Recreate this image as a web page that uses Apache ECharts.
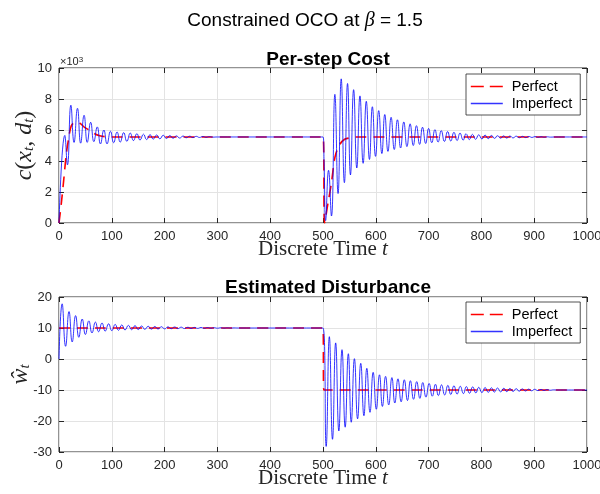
<!DOCTYPE html>
<html>
<head>
<meta charset="utf-8">
<script src="https://cdn.jsdelivr.net/npm/echarts@6/dist/echarts.min.js"></script>
<style>
  html, body { margin: 0; padding: 0; background: #fff; }
  #chart { width: 600px; height: 494px; }
</style>
</head>
<body>
<div id="chart"></div>
<script>
// values (cost in units of 10^3)
const seriesNames = ['Perfect', 'Imperfect']
const costTicks = [0, 2, 4, 6, 8, 10]
const distTicks = [-30, -20, -10, 0, 10, 20]

const costPerfect = [
  [0, 0], [4.5, 1.3], [9, 2.8], [14, 4.5], [18.5, 5.5], [23, 6.25], [30, 6.5], [39, 6.45],
  [48.5, 6.17], [58, 5.98], [67.5, 5.76], [77, 5.63], [86.5, 5.57], [100, 5.55], [500, 5.55],
  [503, 0], [509.5, 1.3], [516, 2.6], [523, 4.3], [531.5, 5.05], [541, 5.4], [553.5, 5.5],
  [565, 5.55], [1000, 5.55]
]

const costImperfect = [
  [0, 0], [11, 5.65], [16, 3.75], [22.5, 7.6], [28.5, 5.2], [35, 7.4], [41, 5.15], [47.5, 6.95],
  [53.5, 5.2], [60, 6.5], [66, 5.25], [72.5, 6.2], [78.5, 5.1], [85, 6.0], [91, 5.1], [97.5, 5.92],
  [103.5, 5.18], [110, 5.87], [116, 5.22], [122.5, 5.83], [128.5, 5.27], [135, 5.8], [141, 5.32],
  [147.5, 5.76], [153.5, 5.35], [160, 5.73], [166, 5.38], [172.5, 5.7], [178.5, 5.41], [185, 5.68],
  [191, 5.43], [197.5, 5.66], [203.5, 5.45], [210, 5.64], [216, 5.47], [222.5, 5.62], [228.5, 5.48],
  [235, 5.61], [241, 5.5], [247.5, 5.6], [253.5, 5.51], [260, 5.59], [266, 5.52], [272.5, 5.58],
  [278.5, 5.53], [285, 5.57], [291, 5.54], [300, 5.55], [500, 5.55],
  [502, 4.0], [505, 0.15], [510.5, 3.4], [516, 0.45], [522.5, 8.3], [528.5, 1.9], [534.5, 9.3],
  [540.5, 2.6], [546.5, 9.0], [552, 3.1], [558, 8.6], [564, 3.55], [570, 8.2], [576, 3.85],
  [582, 7.85], [588, 4.1], [593.5, 7.5], [599.5, 4.3], [605.5, 7.25], [611.5, 4.48], [617, 7.0],
  [623, 4.62], [629, 6.82], [635, 4.74], [641, 6.66], [647, 4.84], [653, 6.52], [659, 4.93],
  [665, 6.4], [671, 5.0], [677, 6.28], [683, 5.07], [688.5, 6.18], [694.5, 5.13], [700, 6.1],
  [706, 5.18], [712, 6.02], [718, 5.22], [724, 5.96], [730, 5.26], [736, 5.9], [742, 5.29],
  [748, 5.85], [754, 5.32], [759.5, 5.8], [765.5, 5.35], [771, 5.76], [777, 5.38], [783, 5.72],
  [789, 5.4], [795, 5.69], [801, 5.42], [807, 5.67], [813, 5.44], [819, 5.65], [825, 5.46],
  [830.5, 5.63], [836.5, 5.47], [842, 5.62], [848, 5.48], [854, 5.61], [860, 5.49], [866, 5.6],
  [872, 5.5], [878, 5.59], [884, 5.51], [890, 5.58], [896, 5.52], [901.5, 5.575], [907.5, 5.53],
  [913, 5.565], [919, 5.535], [925, 5.56], [931, 5.54], [940, 5.55], [1000, 5.55]
]

const distPerfect = [[0, 10], [500, 10], [501.5, -10], [1000, -10]]

const distImperfect = [
  [0, 0], [6, 17.8], [12.5, 4.1], [19, 15.3], [25, 5.5], [31.5, 14.0], [37.5, 7.0], [44, 12.9],
  [50, 7.9], [56.5, 12.3], [62.5, 8.4], [69, 11.9], [75, 8.8], [81.5, 11.6], [87.5, 9.0],
  [94, 11.35], [100, 9.15], [106.5, 11.15], [112.5, 9.25], [119, 11.0], [125, 9.35], [131.5, 10.85],
  [137.5, 9.45], [144, 10.75], [150, 9.5], [156.5, 10.65], [162.5, 9.58], [169, 10.55], [175, 9.63],
  [181.5, 10.48], [187.5, 9.68], [194, 10.42], [200, 9.72], [206.5, 10.37], [212.5, 9.76],
  [219, 10.32], [225, 9.8], [231.5, 10.27], [237.5, 9.83], [244, 10.23], [250, 9.86], [256.5, 10.19],
  [262.5, 9.88], [269, 10.16], [275, 9.9], [281.5, 10.13], [287.5, 9.92], [294, 10.1], [300, 9.93],
  [306.5, 10.08], [312.5, 9.95], [319, 10.05], [325, 9.97], [331.5, 10.03], [340, 10], [500, 10],
  [506, -28.2], [512, 7.2], [518, -25.9], [524, 5.2], [530, -23.2], [536, 3.0], [542, -22.0],
  [548, 1.7], [553.5, -20.4], [559.5, 0.1], [565.5, -19.3], [571.5, -1.4], [577.5, -18.3],
  [583, -3.0], [589, -17.2], [595, -4.3], [601, -16.2], [607, -5.1], [612.5, -15.3], [618.5, -5.6],
  [624.5, -14.8], [630.5, -6.0], [636, -14.2], [642, -6.4], [648, -13.8], [654, -6.7], [660, -13.4],
  [665.5, -7.0], [671.5, -13.0], [677.5, -7.3], [683.5, -12.7], [689, -7.6], [695, -12.3],
  [701, -7.9], [707, -12.0], [713, -8.15], [718.5, -11.8], [724.5, -8.35], [730.5, -11.6],
  [736.5, -8.5], [742, -11.45], [748, -8.65], [754, -11.3], [760, -8.8], [766, -11.15],
  [771.5, -8.9], [777.5, -11.05], [783.5, -9.0], [789.5, -10.95], [795, -9.1], [801, -10.85],
  [807, -9.2], [813, -10.76], [819, -9.28], [824.5, -10.68], [830.5, -9.36], [836.5, -10.6],
  [842.5, -9.44], [848, -10.52], [854, -9.52], [860, -10.45], [866, -9.58], [871.5, -10.38],
  [877.5, -9.65], [883.5, -10.32], [889.5, -9.71], [895, -10.26], [901, -9.77], [907, -10.2],
  [913, -9.83], [918.5, -10.14], [924.5, -9.89], [930.5, -10.08], [936.5, -9.95], [945, -10],
  [1000, -10]
]

const sans = 'Liberation Sans'
const serif = 'Liberation Serif'
const ink = '#262626'
const gridColor = '#e3e3e3'
const red = '#ff0000'
const blue = '#0000ff'

const mathRich = {
  r: { fontFamily: serif, fontSize: 24, color: ink },
  i: { fontFamily: serif, fontStyle: 'italic', fontSize: 24, color: ink },
  s: { fontFamily: serif, fontStyle: 'italic', fontSize: 15, color: ink, lineHeight: 8, verticalAlign: 'bottom' }
}
const xNameRich = {
  r: { fontFamily: serif, fontSize: 21, color: ink },
  i: { fontFamily: serif, fontStyle: 'italic', fontSize: 21, color: ink }
}

const grids = [
  { left: 59, top: 68, width: 528, height: 155 },
  { left: 59, top: 297, width: 528, height: 155 }
]

function xAxes(gi) {
  const base = {
    type: 'value', gridIndex: gi, min: 0, max: 1000, interval: 100,
    axisLine: { show: false, onZero: false },
    axisTick: { inside: true, length: 5, lineStyle: { color: ink } }
  }
  return [
    Object.assign({}, base, {
      position: 'bottom',
      axisLabel: { fontFamily: sans, fontSize: 13, color: ink, margin: 7, formatter: v => String(v) },
      splitLine: { show: true, lineStyle: { color: gridColor } },
      name: '{r|Discrete Time }{i|t}',
      nameLocation: 'middle', nameGap: 16, nameMoveOverlap: false,
      nameTextStyle: { rich: xNameRich }
    }),
    Object.assign({}, base, { position: 'top', axisLabel: { show: false }, splitLine: { show: false } })
  ]
}

function yAxes(gi, ticks, name, gap) {
  const base = {
    type: 'value', gridIndex: gi, min: ticks[0], max: ticks[ticks.length - 1],
    interval: ticks[1] - ticks[0],
    axisLine: { show: false, onZero: false },
    axisTick: { inside: true, length: 5, lineStyle: { color: ink } }
  }
  return [
    Object.assign({}, base, {
      position: 'left',
      axisLabel: { fontFamily: sans, fontSize: 13, color: ink, margin: 7 },
      splitLine: { show: true, lineStyle: { color: gridColor } },
      name: name, nameLocation: 'middle', nameGap: gap, nameRotate: 90, nameMoveOverlap: false,
      nameTextStyle: { rich: mathRich }
    }),
    Object.assign({}, base, { position: 'right', axisLabel: { show: false }, splitLine: { show: false } })
  ]
}

function legendAt(top) {
  return {
    orient: 'vertical', left: 466, top: top,
    data: [
      { name: seriesNames[0], lineStyle: { color: red, type: [13, 6], width: 1.6 } },
      { name: seriesNames[1], lineStyle: { color: '#3333ff', width: 1.4 } }
    ],
    backgroundColor: '#fff', borderColor: ink, borderWidth: 0.8, borderRadius: 0,
    padding: [5, 8, 4, 4], itemGap: 2, itemWidth: 32, itemHeight: 12,
    itemStyle: { opacity: 0 },
    textStyle: { fontFamily: sans, fontSize: 14.5, color: '#000', padding: [0, 0, 0, 4] }
  }
}

function perfectSeries(data, xi, yi) {
  return {
    name: 'Perfect', type: 'line', data: data, xAxisIndex: xi, yAxisIndex: yi,
    showSymbol: false, symbol: 'none', smooth: 0.3,
    lineStyle: { color: red, width: 1.6, type: [11, 7] },
    itemStyle: { color: red }
  }
}

function imperfectSeries(data, xi, yi) {
  return {
    name: 'Imperfect', type: 'line', data: data, xAxisIndex: xi, yAxisIndex: yi,
    showSymbol: false, symbol: 'none', smooth: 0.5,
    lineStyle: { color: blue, width: 0.8 },
    itemStyle: { color: blue }
  }
}

const chart = echarts.init(document.getElementById('chart'), null, { renderer: 'canvas' })
chart.setOption({
  animation: false,
  backgroundColor: '#fff',
  title: [
    {
      text: '{r|Constrained OCO at }{b|β}{r| = 1.5}',
      left: 300, top: 6, textAlign: 'center',
      textStyle: { fontWeight: 'normal', rich: {
        r: { fontFamily: sans, fontSize: 19, fontWeight: 'normal', color: '#000' },
        b: { fontFamily: serif, fontStyle: 'italic', fontWeight: 'normal', fontSize: 20, color: '#000' }
      } }
    },
    { text: 'Per-step Cost', left: 323, top: 45, textAlign: 'center',
      textStyle: { fontFamily: sans, fontSize: 19, fontWeight: 'bold', color: '#000' } },
    { text: 'Estimated Disturbance', left: 323, top: 273, textAlign: 'center',
      textStyle: { fontFamily: sans, fontSize: 19, fontWeight: 'bold', color: '#000' } }
  ],
  graphic: [
    { type: 'text', left: 60, top: 56, style: {
      text: '{a|×10}{b|3}', rich: {
        a: { fontFamily: sans, fontSize: 11, fill: ink },
        b: { fontFamily: sans, fontSize: 8, fill: ink, verticalAlign: 'top', lineHeight: 8 }
      } } }
  ],
  legend: [legendAt(74), legendAt(302)],
  grid: grids.map(g => Object.assign({ show: true, borderColor: ink, borderWidth: 1, backgroundColor: '#fff', outerBoundsMode: 'none' }, g)),
  xAxis: xAxes(0).concat(xAxes(1)),
  yAxis: yAxes(0, costTicks, '{i|c}{r|(}{i|x}{s|t}{r|, }{i|d}{s|t}{r|)}', 22)
    .concat(yAxes(1, distTicks, '{i|ŵ}{s|t}', 26)),
  series: [
    perfectSeries(costPerfect, 0, 0),
    imperfectSeries(costImperfect, 0, 0),
    perfectSeries(distPerfect, 2, 2),
    imperfectSeries(distImperfect, 2, 2)
  ]
})
</script>
</body>
</html>
